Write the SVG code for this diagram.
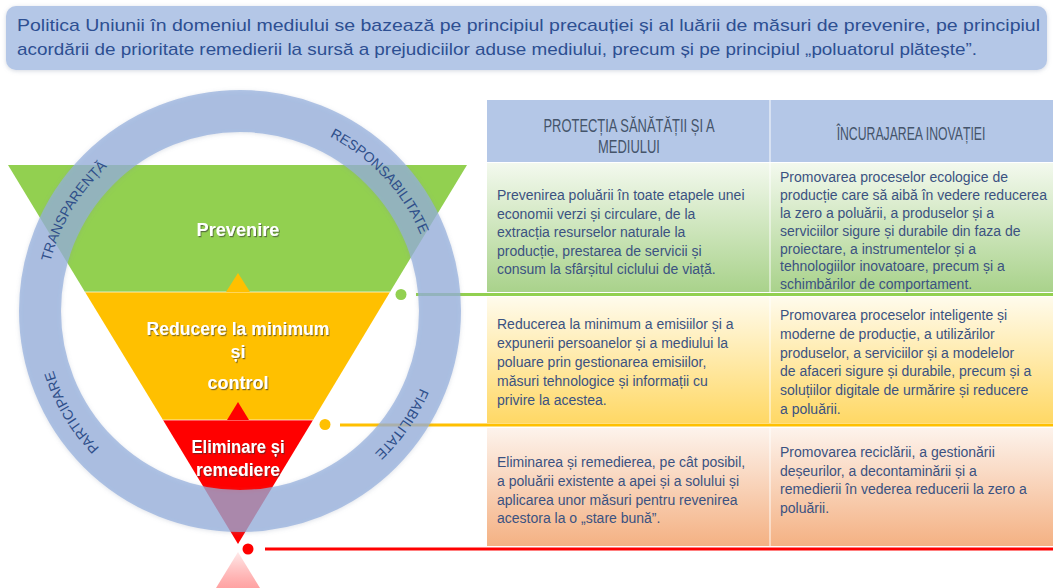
<svg xmlns="http://www.w3.org/2000/svg" width="1053" height="588" viewBox="0 0 1053 588">
<defs>
<style>
.banner{font-family:"Liberation Sans",Arial,sans-serif;font-size:17px;fill:#2d4f92}
.hdr{font-family:"Liberation Sans",Arial,sans-serif;font-size:17.5px;fill:#44546a;text-anchor:middle}
.body{font-family:"Liberation Sans",Arial,sans-serif;font-size:14px;fill:#3b5281}
.lvl{font-family:"Liberation Sans",Arial,sans-serif;font-size:18px;font-weight:bold;fill:#ffffff;text-anchor:middle;filter:url(#ts)}
.ring{font-family:"Liberation Sans",Arial,sans-serif;font-size:14px;fill:#2f4f8a}
</style>
<filter id="sh" x="-10%" y="-10%" width="120%" height="120%"><feDropShadow dx="0" dy="1" stdDeviation="2" flood-color="#7f8fa8" flood-opacity="0.35"/></filter>
<filter id="ts" x="-10%" y="-30%" width="120%" height="160%"><feDropShadow dx="1" dy="1.2" stdDeviation="0.7" flood-color="#333333" flood-opacity="0.6"/></filter>
<linearGradient id="g1" x1="0" y1="0" x2="0" y2="1"><stop offset="0" stop-color="#f3f9ee"/><stop offset="1" stop-color="#a9d28b"/></linearGradient>
<linearGradient id="g2" x1="0" y1="0" x2="0" y2="1"><stop offset="0" stop-color="#fffbec"/><stop offset="1" stop-color="#ffd865"/></linearGradient>
<linearGradient id="g3" x1="0" y1="0" x2="0" y2="1"><stop offset="0" stop-color="#fdf3ec"/><stop offset="1" stop-color="#f4b183"/></linearGradient>
<linearGradient id="gp" x1="0" y1="0" x2="0" y2="1"><stop offset="0" stop-color="#ff0000" stop-opacity="0.08"/><stop offset="1" stop-color="#ff3030" stop-opacity="0.45"/></linearGradient>
<path id="arc" d="M436,311 A196,196 0 1 1 44,311 A196,196 0 1 1 436,311"/>
</defs>

<g id="banner">
<rect x="6" y="6" width="1041" height="64" rx="10" fill="#b4c7e7" filter="url(#sh)"/>
<text class="banner" x="17" y="31" textLength="1023" lengthAdjust="spacingAndGlyphs">Politica Uniunii în domeniul mediului se bazează pe principiul precauției și al luării de măsuri de prevenire, pe principiul</text>
<text class="banner" x="17" y="55" textLength="960" lengthAdjust="spacingAndGlyphs">acordării de prioritate remedierii la sursă a prejudiciilor aduse mediului, precum și pe principiul „poluatorul plătește”.</text>
</g>

<g id="table">
<rect x="487" y="100" width="566" height="62" fill="#b4c7e7"/>
<rect x="487" y="163" width="566" height="129" fill="url(#g1)"/>
<rect x="487" y="297" width="566" height="126" fill="url(#g2)"/>
<rect x="487" y="428" width="566" height="118" fill="url(#g3)"/>
<line x1="770" y1="100" x2="770" y2="546" stroke="#ffffff" stroke-width="1.2" stroke-opacity="0.8"/>
<text class="hdr" transform="translate(629,132) scale(0.74,1)">PROTECȚIA SĂNĂTĂȚII ȘI A</text>
<text class="hdr" transform="translate(629,153) scale(0.74,1)">MEDIULUI</text>
<text class="hdr" transform="translate(911,140) scale(0.7,1)">ÎNCURAJAREA INOVAȚIEI</text>
</g>

<g id="cell-r1c1">
<text class="body" x="497" y="200">Prevenirea poluării în toate etapele unei</text>
<text class="body" x="497" y="218.5">economii verzi și circulare, de la</text>
<text class="body" x="497" y="237">extracția resurselor naturale la</text>
<text class="body" x="497" y="255.5">producție, prestarea de servicii și</text>
<text class="body" x="497" y="274">consum la sfârșitul ciclului de viață.</text>
</g>
<g id="cell-r1c2">
<text class="body" x="780" y="182">Promovarea proceselor ecologice de</text>
<text class="body" x="780" y="200">producție care să aibă în vedere reducerea</text>
<text class="body" x="780" y="218">la zero a poluării, a produselor și a</text>
<text class="body" x="780" y="236">serviciilor sigure și durabile din faza de</text>
<text class="body" x="780" y="253.5">proiectare, a instrumentelor și a</text>
<text class="body" x="780" y="271">tehnologiilor inovatoare, precum și a</text>
<text class="body" x="780" y="288.5">schimbărilor de comportament.</text>
</g>
<g id="cell-r2c1">
<text class="body" x="497" y="329">Reducerea la minimum a emisiilor și a</text>
<text class="body" x="497" y="348">expunerii persoanelor și a mediului la</text>
<text class="body" x="497" y="367">poluare prin gestionarea emisiilor,</text>
<text class="body" x="497" y="386">măsuri tehnologice și informații cu</text>
<text class="body" x="497" y="405">privire la acestea.</text>
</g>
<g id="cell-r2c2">
<text class="body" x="780" y="320">Promovarea proceselor inteligente și</text>
<text class="body" x="780" y="339">moderne de producție, a utilizărilor</text>
<text class="body" x="780" y="357.5">produselor, a serviciilor și a modelelor</text>
<text class="body" x="780" y="376">de afaceri sigure și durabile, precum și a</text>
<text class="body" x="780" y="395">soluțiilor digitale de urmărire și reducere</text>
<text class="body" x="780" y="414">a poluării.</text>
</g>
<g id="cell-r3c1">
<text class="body" x="497" y="467">Eliminarea și remedierea, pe cât posibil,</text>
<text class="body" x="497" y="486">a poluării existente a apei și a solului și</text>
<text class="body" x="497" y="504.5">aplicarea unor măsuri pentru revenirea</text>
<text class="body" x="497" y="523">acestora la o „stare bună”.</text>
</g>
<g id="cell-r3c2">
<text class="body" x="780" y="457">Promovarea reciclării, a gestionării</text>
<text class="body" x="780" y="475.5">deșeurilor, a decontaminării și a</text>
<text class="body" x="780" y="494">remedierii în vederea reducerii la zero a</text>
<text class="body" x="780" y="513">poluării.</text>
</g>

<g id="connectors">
<line x1="416" y1="294.5" x2="1053" y2="294.5" stroke="#92d050" stroke-width="3"/>
<line x1="340" y1="425" x2="1053" y2="425" stroke="#ffc000" stroke-width="3"/>
<line x1="265" y1="549" x2="1053" y2="549" stroke="#ff0000" stroke-width="3"/>
<circle cx="401" cy="294.5" r="5.5" fill="#92d050"/>
<circle cx="325" cy="424.5" r="5.5" fill="#ffc000"/>
<circle cx="248" cy="549" r="5.5" fill="#ff0000"/>
</g>

<g id="pyramid">
<polygon points="8,165 467,165 390,292 85,292" fill="#92d050"/>
<polygon points="85,292 390,292 313,420 163,420" fill="#ffc000"/>
<polygon points="163,420 313,420 238,544" fill="#ff0000"/>
<line x1="85" y1="292" x2="390" y2="292" stroke="#ffffff" stroke-width="1" stroke-opacity="0.7"/>
<line x1="163" y1="420" x2="313" y2="420" stroke="#ffffff" stroke-width="1" stroke-opacity="0.7"/>
<polygon points="226,292 250,292 238,273" fill="#ffc000"/>
<polygon points="227,420 249,420 238,402" fill="#ff0000"/>
<polygon points="238,552 216,588 260,588" fill="url(#gp)"/>
</g>

<g id="ring">
<circle cx="240" cy="311" r="200" fill="none" stroke="#94afdc" stroke-opacity="0.72" stroke-width="42" filter="url(#sh)"/>
<text class="ring"><textPath href="#arc" startOffset="58.6%" text-anchor="middle">TRANSPARENȚĂ</textPath></text>
<text class="ring"><textPath href="#arc" startOffset="88.1%" text-anchor="middle">RESPONSABILITATE</textPath></text>
<text class="ring"><textPath href="#arc" startOffset="41.4%" text-anchor="middle">PARTICIPARE</textPath></text>
<text class="ring"><textPath href="#arc" startOffset="9.7%" text-anchor="middle">FIABILITATE</textPath></text>
</g>

<g id="level-prevenire">
<text class="lvl" x="238" y="236" textLength="83" lengthAdjust="spacingAndGlyphs">Prevenire</text>
</g>
<g id="level-reducere">
<text class="lvl" x="238" y="335" textLength="183" lengthAdjust="spacingAndGlyphs">Reducere la minimum</text>
<text class="lvl" x="238" y="358">și</text>
<text class="lvl" x="238" y="389" textLength="61" lengthAdjust="spacingAndGlyphs">control</text>
</g>
<g id="level-eliminare">
<text class="lvl" x="238" y="453" textLength="93" lengthAdjust="spacingAndGlyphs">Eliminare și</text>
<text class="lvl" x="238" y="476" textLength="84" lengthAdjust="spacingAndGlyphs">remediere</text>
</g>
</svg>
